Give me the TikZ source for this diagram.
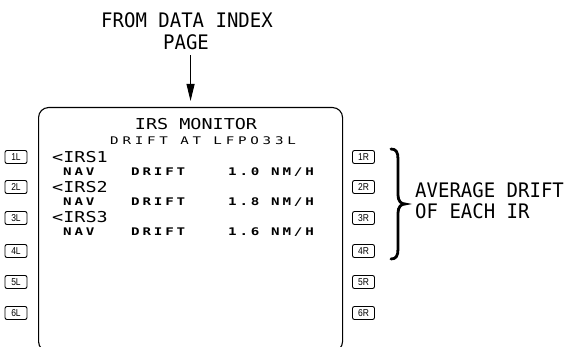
\documentclass[tikz,border=0pt]{standalone}
\usepackage{fontspec}
\usetikzlibrary{arrows.meta}
\newfontfamily\outfont[FakeStretch=0.95]{DejaVu Sans Mono}
\newfontfamily\cdubig[FakeStretch=1.23]{DejaVu Sans Mono}
\newfontfamily\cdusmall[FakeStretch=1.35,LetterSpace=27]{DejaVu Sans Mono}
\newfontfamily\cdusub[FakeStretch=1.35,LetterSpace=36]{DejaVu Sans Mono}
\newfontfamily\btnfont[FakeStretch=0.85]{Liberation Sans}
\tikzset{
  outer/.style={inner sep=0pt, font=\outfont\fontsize{20}{24}\selectfont},
  big/.style={inner sep=0pt, font=\cdubig\fontsize{15}{18}\selectfont},
  small/.style={inner sep=0pt, font=\cdusmall\bfseries\fontsize{10.5}{12}\selectfont},
  subline/.style={inner sep=0pt, font=\cdusub\fontsize{10.5}{12}\selectfont},
  btn/.style={draw, rounded corners=2pt, line width=0.9pt, minimum width=22pt, minimum height=13pt, inner sep=0pt, font=\btnfont\fontsize{10}{10}\selectfont},
  screenbox/.style={draw, line width=1.1pt, rounded corners=10pt, minimum width=304pt, minimum height=244pt, inner sep=0pt},
  arr/.style={line width=1pt, -{Triangle[length=17pt,width=8pt]}},
  bracestroke/.style={line width=2.8pt, line cap=round}
}
\begin{document}
\begin{tikzpicture}[x=1pt,y=-1pt]
\fill[white] (0,0) rectangle (565,347);
\clip (0,0) rectangle (565,347);
\useasboundingbox (0,0) rectangle (565,347);
% header label
\node[outer, anchor=base] (lbl1) at (187,28) {FROM DATA INDEX};
\node[outer, anchor=base] (lbl2) at (186,50) {PAGE};
% screen
\node[screenbox, anchor=north west] (screen) at (38,107) {};
\draw[arr] ([yshift=-5pt]lbl2.south -| screen.north) -- ([yshift=6pt]screen.north);
% screen text
\node[big, anchor=base] (title) at (196,130) {IRS MONITOR};
\node[subline, anchor=base west] (sub) at (110,145) {DRIFT AT LFPO33L};
\foreach \i/\yy in {1/163,2/193,3/223}{
  \node[big, anchor=base west] (irs\i) at (52,\yy) {<IRS\i};
}
\foreach \i/\yy/\val in {1/176/1.0,2/206/1.8,3/236/1.6}{
  \node[small, anchor=base west] (nav\i) at (63,\yy) {NAV};
  \node[small, anchor=base west] (drift\i) at (131,\yy) {DRIFT};
  \node[small, anchor=base west] (val\i) at (228,\yy) {\val};
  \node[small, anchor=base west] (unit\i) at (271,\yy) {NM/H};
}
% line select keys
\foreach \i/\yy in {1/157,2/187,3/218,4/251,5/282,6/313}{
  \node[btn] (lsk\i) at (16,\yy) {\i L};
  \node[btn] (rsk\i) at (363.5,\yy) {\i R};
}
% brace
\draw[bracestroke] (391,149) .. controls (396,149) and (398,152) .. (398,159)
  -- (398,195) .. controls (398,201) and (401,204) .. (405,204)
  .. controls (401,204) and (398,207) .. (398,213)
  -- (398,249) .. controls (398,256) and (396,259) .. (391,259);
\node[outer, anchor=base west] (avg1) at (415,198) {AVERAGE DRIFT};
\node[outer, anchor=base west] (avg2) at (415,219) {OF EACH IR};
\end{tikzpicture}
\end{document}
